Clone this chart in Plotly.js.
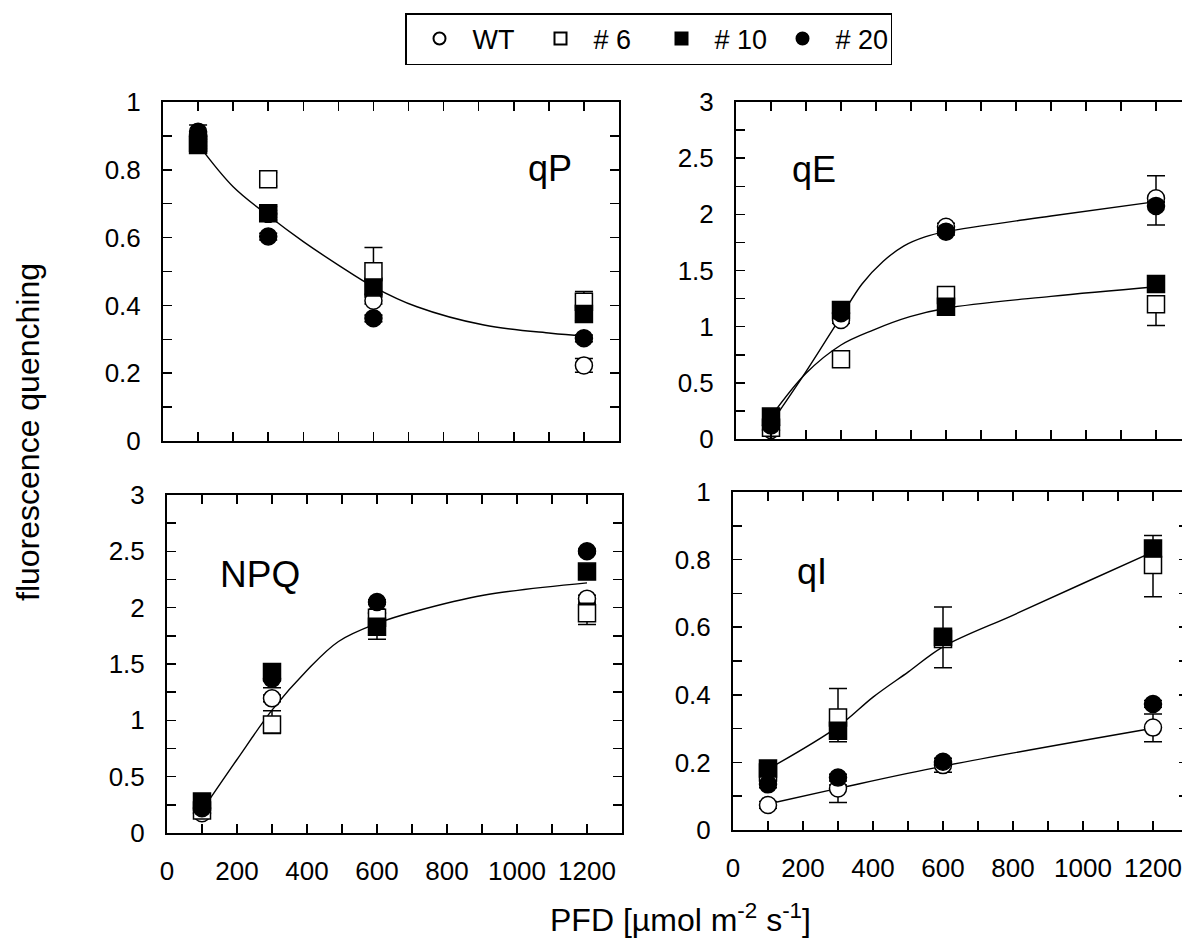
<!DOCTYPE html>
<html>
<head>
<meta charset="utf-8">
<script src="https://cdn.plot.ly/plotly-3.0.1.min.js"></script>
<style>
html,body{margin:0;padding:0;overflow:hidden;background:#fff;}
#chart{width:1200px;height:940px;}
</style>
</head>
<body>
<div id="chart"></div>
<script>
// ---------- data ----------
const PFD = [100, 300, 600, 1200];
const seriesNames = ['WT', '# 6', '# 10', '# 20'];

// qP panel
const qP_WT = [0.90, 0.67, 0.414, 0.223];
const qP_6  = [0.88, 0.772, 0.501, 0.411];
const qP_10 = [0.873, 0.672, 0.453, 0.375];
const qP_20 = [0.912, 0.603, 0.362, 0.303];
const qP_WT_errUp = [0.01, 0.01, 0.01, 0.02], qP_WT_errDn = [0.01, 0.01, 0.01, 0.02];
const qP_6_errUp  = [0.01, 0.02, 0.07, 0.03], qP_6_errDn  = [0.01, 0.02, 0.02, 0.01];
const qP_10_errUp = [0.01, 0.02, 0.02, 0.02], qP_10_errDn = [0.01, 0.02, 0.02, 0.02];
const qP_20_errUp = [0.02, 0.01, 0.01, 0.01], qP_20_errDn = [0.01, 0.01, 0.01, 0.01];
const qP_fitX = [100, 200, 300, 400, 500, 600, 724, 915, 1106, 1200];
const qP_fitY = [0.875, 0.75, 0.665, 0.588, 0.519, 0.455, 0.396, 0.342, 0.318, 0.31];

// qE panel
const qE_WT = [0.08, 1.06, 1.89, 2.143];
const qE_6  = [0.10, 0.71, 1.282, 1.20];
const qE_10 = [0.20, 1.149, 1.178, 1.38];
const qE_20 = [0.12, 1.12, 1.846, 2.075];
const qE_WT_errUp = [0.02, 0.03, 0.03, 0.20], qE_WT_errDn = [0.02, 0.03, 0.03, 0.03];
const qE_6_errUp  = [0.02, 0.03, 0.03, 0.03], qE_6_errDn  = [0.02, 0.03, 0.02, 0.19];
const qE_10_errUp = [0.02, 0.02, 0.02, 0.02], qE_10_errDn = [0.02, 0.02, 0.02, 0.02];
const qE_20_errUp = [0.02, 0.02, 0.03, 0.03], qE_20_errDn = [0.02, 0.02, 0.03, 0.17];
const qE_fitUpX = [100, 200, 300, 360, 420, 480, 540, 600, 900, 1200];
const qE_fitUpY = [0.14, 0.60, 1.09, 1.38, 1.58, 1.72, 1.80, 1.846, 1.985, 2.113];
const qE_fitLoX = [100, 200, 300, 392, 497, 600, 900, 1200];
const qE_fitLoY = [0.20, 0.585, 0.837, 0.97, 1.089, 1.164, 1.27, 1.356];

// NPQ panel
const NPQ_WT = [0.175, 1.195, 1.95, 2.08];
const NPQ_6  = [0.20, 0.964, 1.91, 1.95];
const NPQ_10 = [0.28, 1.43, 1.83, 2.32];
const NPQ_20 = [0.22, 1.37, 2.05, 2.50];
const NPQ_WT_errUp = [0.03, 0.03, 0.03, 0.03], NPQ_WT_errDn = [0.03, 0.03, 0.03, 0.03];
const NPQ_6_errUp  = [0.02, 0.12, 0.02, 0.09], NPQ_6_errDn  = [0.02, 0.08, 0.02, 0.10];
const NPQ_10_errUp = [0.02, 0.02, 0.02, 0.02], NPQ_10_errDn = [0.02, 0.14, 0.11, 0.02];
const NPQ_20_errUp = [0.02, 0.02, 0.02, 0.02], NPQ_20_errDn = [0.02, 0.02, 0.02, 0.02];
const NPQ_fitX = [100, 199, 300, 399, 490, 600, 713, 904, 1200];
const NPQ_fitY = [0.20, 0.648, 1.09, 1.44, 1.70, 1.86, 1.97, 2.11, 2.22];

// qI panel
const qI_WT = [0.074, 0.123, 0.192, 0.303];
const qI_6  = [0.17, 0.333, 0.565, 0.784];
const qI_10 = [0.182, 0.294, 0.572, 0.833];
const qI_20 = [0.135, 0.155, 0.202, 0.373];
const qI_WT_errUp = [0.01, 0.01, 0.01, 0.04], qI_WT_errDn = [0.01, 0.042, 0.021, 0.042];
const qI_6_errUp  = [0.01, 0.086, 0.02, 0.02], qI_6_errDn  = [0.01, 0.02, 0.02, 0.094];
const qI_10_errUp = [0.01, 0.01, 0.088, 0.038], qI_10_errDn = [0.01, 0.033, 0.092, 0.01];
const qI_20_errUp = [0.01, 0.01, 0.01, 0.01], qI_20_errDn = [0.01, 0.01, 0.01, 0.01];
const qI_fitUpX = [100, 300, 401, 501, 600, 801, 1001, 1200];
const qI_fitUpY = [0.18, 0.306, 0.394, 0.468, 0.542, 0.636, 0.73, 0.823];
const qI_fitLoX = [100, 300, 600, 1200];
const qI_fitLoY = [0.077, 0.123, 0.189, 0.301];

// ticks
const xTickVals = [0, 200, 400, 600, 800, 1000, 1200];
const xTickText = ['0', '200', '400', '600', '800', '1000', '1200'];
const xMinorStep = 100;
const yTickVals1 = [0, 0.2, 0.4, 0.6, 0.8, 1];
const yTickText1 = ['0', '0.2', '0.4', '0.6', '0.8', '1'];
const yMinorStep1 = 0.1;
const yTickVals3 = [0, 0.5, 1, 1.5, 2, 2.5, 3];
const yTickText3 = ['0', '0.5', '1', '1.5', '2', '2.5', '3'];
const yMinorStep3 = 0.25;

const panelLabels = ['qP', 'qE', 'NPQ', 'qI'];
const xTitle = 'PFD [µmol m<sup>-2</sup> s<sup>-1</sup>]';
const yTitle = 'fluorescence quenching';

// ---------- build ----------
const W = 1200, H = 940;
const FONT = 'Liberation Sans, Arial, Helvetica, sans-serif';
const styles = [
  {symbol: 'circle', color: 'white'},
  {symbol: 'square', color: 'white'},
  {symbol: 'square', color: 'black'},
  {symbol: 'circle', color: 'black'}
];

const panels = [
  {xa: 'x', ya: 'y', vals: [qP_WT, qP_6, qP_10, qP_20],
   up: [qP_WT_errUp, qP_6_errUp, qP_10_errUp, qP_20_errUp],
   dn: [qP_WT_errDn, qP_6_errDn, qP_10_errDn, qP_20_errDn],
   fits: [[qP_fitX, qP_fitY]]},
  {xa: 'x2', ya: 'y2', vals: [qE_WT, qE_6, qE_10, qE_20],
   up: [qE_WT_errUp, qE_6_errUp, qE_10_errUp, qE_20_errUp],
   dn: [qE_WT_errDn, qE_6_errDn, qE_10_errDn, qE_20_errDn],
   fits: [[qE_fitUpX, qE_fitUpY], [qE_fitLoX, qE_fitLoY]]},
  {xa: 'x3', ya: 'y3', vals: [NPQ_WT, NPQ_6, NPQ_10, NPQ_20],
   up: [NPQ_WT_errUp, NPQ_6_errUp, NPQ_10_errUp, NPQ_20_errUp],
   dn: [NPQ_WT_errDn, NPQ_6_errDn, NPQ_10_errDn, NPQ_20_errDn],
   fits: [[NPQ_fitX, NPQ_fitY]]},
  {xa: 'x4', ya: 'y4', vals: [qI_WT, qI_6, qI_10, qI_20],
   up: [qI_WT_errUp, qI_6_errUp, qI_10_errUp, qI_20_errUp],
   dn: [qI_WT_errDn, qI_6_errDn, qI_10_errDn, qI_20_errDn],
   fits: [[qI_fitUpX, qI_fitUpY], [qI_fitLoX, qI_fitLoY]]}
];

const traces = [];
panels.forEach((p, pi) => {
  p.fits.forEach(f => {
    traces.push({x: f[0], y: f[1], xaxis: p.xa, yaxis: p.ya, mode: 'lines',
      line: {color: 'black', width: 1.4, shape: 'spline', smoothing: 1},
      showlegend: false, hoverinfo: 'skip'});
  });
});
panels.forEach((p, pi) => {
  seriesNames.forEach((name, si) => {
    traces.push({
      x: PFD, y: p.vals[si], xaxis: p.xa, yaxis: p.ya, mode: 'markers',
      name: name, legendgroup: name, showlegend: pi === 0,
      marker: {symbol: styles[si].symbol, color: styles[si].color, size: 17,
               line: {color: 'black', width: 1.5}},
      error_y: {type: 'data', symmetric: false, array: p.up[si], arrayminus: p.dn[si],
                color: 'black', thickness: 1.5, width: 9},
      cliponaxis: false
    });
  });
});

function px(x) { return x / W; }
function py(y) { return 1 - y / H; }

const axBase = {
  showline: true, linecolor: 'black', linewidth: 2, mirror: 'ticks',
  ticks: 'inside', ticklen: 9, tickwidth: 1.5, tickcolor: 'black',
  showgrid: false, zeroline: false, fixedrange: true,
  tickfont: {family: FONT, size: 26, color: 'black'}
};
function xAxis(d, showLabels, anchor) {
  return Object.assign({}, axBase, {domain: d, range: [0, 1300], anchor: anchor,
    tickmode: 'array', tickvals: xTickVals, ticktext: xTickText,
    minor: {dtick: xMinorStep, tick0: 0, ticks: 'inside', ticklen: 9, tickwidth: 1.5, tickcolor: 'black', showgrid: false},
    showticklabels: showLabels, ticklabelstandoff: 14});
}
function yAxis(d, range, tv, tt, step, anchor) {
  return Object.assign({}, axBase, {domain: d, range: range, anchor: anchor,
    tickmode: 'array', tickvals: tv, ticktext: tt,
    minor: {dtick: step, tick0: 0, ticks: 'inside', ticklen: 9, tickwidth: 1.5, tickcolor: 'black', showgrid: false},
    ticklabelstandoff: 15});
}

const ann = (text, x, y, size, extra) => Object.assign({
  text: text, xref: 'paper', yref: 'paper', x: x, y: y,
  xanchor: 'center', yanchor: 'middle', showarrow: false,
  font: {family: FONT, size: size, color: 'black'}}, extra || {});

const layout = {
  width: W, height: H, margin: {l: 0, r: 0, t: 0, b: 0},
  paper_bgcolor: 'white', plot_bgcolor: 'white',
  font: {family: FONT, color: 'black'},
  showlegend: true,
  legend: {orientation: 'h', x: px(405), y: py(13), xanchor: 'left', yanchor: 'top',
    bordercolor: 'black', borderwidth: 1.5, bgcolor: 'white',
    font: {family: FONT, size: 27, color: 'black'},
    itemsizing: 'constant', itemwidth: 56, entrywidth: 50, traceorder: 'normal'},
  xaxis:  xAxis([px(163), px(619)], false, 'y'),
  yaxis:  yAxis([py(441), py(102)], [0, 1], yTickVals1, yTickText1, yMinorStep1, 'x'),
  xaxis2: xAxis([px(736), px(1191)], false, 'y2'),
  yaxis2: yAxis([py(439), py(102)], [0, 3], yTickVals3, yTickText3, yMinorStep3, 'x2'),
  xaxis3: xAxis([px(167), px(622)], true, 'y3'),
  yaxis3: yAxis([py(833), py(495)], [0, 3], yTickVals3, yTickText3, yMinorStep3, 'x3'),
  xaxis4: xAxis([px(733), px(1188)], true, 'y4'),
  yaxis4: yAxis([py(830), py(492)], [0, 1], yTickVals1, yTickText1, yMinorStep1, 'x4'),
  annotations: [
    ann(panelLabels[0], px(550), py(168), 36),
    ann(panelLabels[1], px(814), py(170), 36),
    ann(panelLabels[2], px(260), py(574), 37),
    ann(panelLabels[3], px(812), py(571), 36),
    ann(xTitle, px(680), py(918), 32),
    ann(yTitle, px(28), py(432), 32, {textangle: -90})
  ]
};

Plotly.newPlot('chart', traces, layout, {staticPlot: true, displayModeBar: false});
</script>
</body>
</html>
